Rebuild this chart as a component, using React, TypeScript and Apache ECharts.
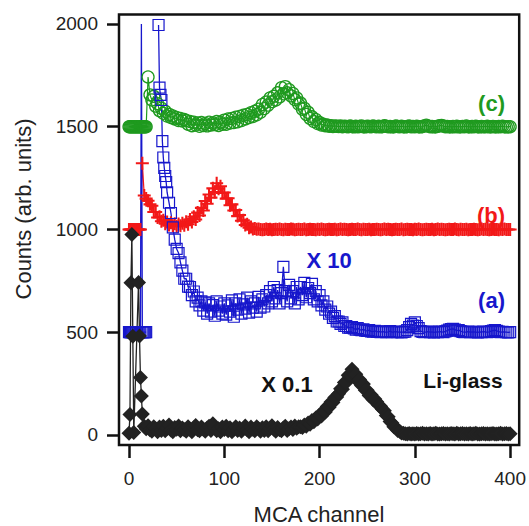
import React, { useEffect, useRef } from "react";
import * as echarts from "echarts";

// ---------------- data ----------------
const X_TICKS = [0, 100, 200, 300, 400];
const Y_TICKS = [0, 500, 1000, 1500, 2000];

// common sampling grid of MCA channels (20 .. 400, step 2)
const GRID_CH = [
  20, 22, 24, 26, 28, 30, 32, 34, 36, 38, 40, 42, 44, 46, 48, 50, 52, 54, 56, 58,
  60, 62, 64, 66, 68, 70, 72, 74, 76, 78, 80, 82, 84, 86, 88, 90, 92, 94, 96, 98,
  100, 102, 104, 106, 108, 110, 112, 114, 116, 118, 120, 122, 124, 126, 128, 130, 132, 134, 136, 138,
  140, 142, 144, 146, 148, 150, 152, 154, 156, 158, 160, 162, 164, 166, 168, 170, 172, 174, 176, 178,
  180, 182, 184, 186, 188, 190, 192, 194, 196, 198, 200, 202, 204, 206, 208, 210, 212, 214, 216, 218,
  220, 222, 224, 226, 228, 230, 232, 234, 236, 238, 240, 242, 244, 246, 248, 250, 252, 254, 256, 258,
  260, 262, 264, 266, 268, 270, 272, 274, 276, 278, 280, 282, 284, 286, 288, 290, 292, 294, 296, 298,
  300, 302, 304, 306, 308, 310, 312, 314, 316, 318, 320, 322, 324, 326, 328, 330, 332, 334, 336, 338,
  340, 342, 344, 346, 348, 350, 352, 354, 356, 358, 360, 362, 364, 366, 368, 370, 372, 374, 376, 378,
  380, 382, 384, 386, 388, 390, 392, 394, 396, 398, 400,
];

// (c) green, offset +1500
const GREEN_EARLY_CH = [0, 1, 2, 3, 4, 5, 6, 7, 8, 9, 10, 11, 12, 13, 14, 15, 16, 17, 18];
const GREEN_EARLY_VAL = [1500, 1500, 1500, 1500, 1500, 1500, 1500, 1500, 1500, 1500, 1500, 1500, 1500, 1500, 1500, 1500, 1500, 1500, 1500];
const GREEN_VAL = [
  1742, 1655, 1630, 1648, 1600, 1612, 1578, 1590, 1565, 1575, 1552, 1560, 1545, 1552, 1538, 1545, 1530, 1540, 1528, 1535,
  1530, 1512, 1525, 1505, 1522, 1508, 1518, 1502, 1520, 1506, 1516, 1504, 1522, 1508, 1518, 1510, 1525, 1506, 1522, 1512,
  1532, 1512, 1538, 1518, 1540, 1520, 1546, 1524, 1550, 1530, 1556, 1538, 1560, 1545, 1568, 1550, 1575, 1558, 1585, 1570,
  1608, 1588, 1620, 1605, 1640, 1622, 1648, 1630, 1665, 1645, 1690, 1660, 1695, 1665, 1680, 1650, 1662, 1632, 1640, 1610,
  1615, 1585, 1590, 1560, 1570, 1540, 1548, 1525, 1535, 1515, 1520, 1508, 1512, 1505, 1508, 1502, 1505, 1501, 1504, 1502,
  1501, 1503, 1500, 1502, 1501, 1500, 1503, 1501, 1499, 1502, 1500, 1501, 1504, 1500, 1499, 1502, 1501, 1500, 1503, 1501,
  1500, 1502, 1499, 1501, 1505, 1502, 1500, 1501, 1499, 1500, 1503, 1501, 1500, 1502, 1500, 1499, 1501, 1503, 1500, 1501,
  1500, 1502, 1500, 1499, 1501, 1504, 1507, 1503, 1500, 1501, 1499, 1500, 1502, 1505, 1506, 1503, 1500, 1501, 1500, 1499,
  1501, 1500, 1502, 1499, 1500, 1501, 1500, 1503, 1500, 1499, 1501, 1500, 1502, 1500, 1499, 1501, 1500, 1500, 1502, 1499,
  1500, 1501, 1500, 1499, 1501, 1500, 1502, 1500, 1499, 1500, 1500,
];

// (b) red, offset +1000
const RED_EARLY_CH = [0, 1, 2, 3, 4, 5, 6, 7, 8, 9, 10, 11, 12, 14, 16, 18];
const RED_EARLY_VAL = [1000, 1000, 1000, 1000, 1000, 1000, 1000, 1000, 1000, 1000, 1000, 1000, 1000, 1322, 1165, 1150];
const RED_VAL = [
  1140, 1122, 1115, 1085, 1085, 1058, 1062, 1040, 1045, 1028, 1036, 1022, 1032, 1018, 1028, 1015, 1026, 1018, 1030, 1020,
  1038, 1025, 1048, 1036, 1062, 1048, 1082, 1068, 1105, 1092, 1138, 1125, 1170, 1155, 1200, 1182, 1225, 1198, 1210, 1178,
  1180, 1150, 1152, 1118, 1122, 1092, 1095, 1065, 1070, 1042, 1045, 1022, 1025, 1008, 1012, 1002, 1005, 1001, 1002, 1000,
  999, 1000, 1002, 1000, 1001, 999, 1000, 1001, 1000, 1002, 1000, 999, 1001, 1000, 1000, 1002, 1001, 999, 1000, 1001,
  1000, 1000, 1002, 999, 1000, 1001, 1000, 1000, 999, 1001, 1000, 1002, 1000, 999, 1000, 1001, 1000, 1000, 1001, 999,
  1000, 1002, 1000, 1001, 1000, 999, 1000, 1001, 1000, 1000, 1002, 1000, 999, 1001, 1000, 1000, 1001, 999, 1000, 1000,
  1001, 1000, 999, 1000, 1002, 1000, 1001, 1000, 999, 1000, 1001, 1000, 1000, 1002, 999, 1000, 1001, 1000, 1000, 999,
  1001, 1000, 1002, 1000, 999, 1000, 1001, 1000, 1000, 1001, 999, 1000, 1002, 1000, 1001, 1000, 999, 1000, 1001, 1000,
  1000, 1002, 1000, 999, 1001, 1000, 1000, 1001, 999, 1000, 1000, 1001, 1000, 999, 1000, 1002, 1000, 1001, 1000, 999,
  1000, 1001, 1000, 1000, 999, 1001, 1000, 1002, 1000, 1000, 1000,
];

// (a) blue, X 10, offset +500 (null = gap in the trace)
const BLUE_EARLY_CH = [0, 1, 2, 3, 4, 5, 6, 7, 8, 9, 10, 11, 12, 13, 14, 15, 16, 17, 18, 31, 33, 35, 37, 39];
const BLUE_EARLY_VAL = [500, 500, 500, 500, 500, 500, 500, 500, 500, 500, 500, 500, 500, 2000, 500, 500, 500, 500, 500, 1995, 1655, 1430, 1300, 1230];
const BLUE_NO_MARK_CH = [13];
const BLUE_VAL: (number | null)[] = [
  null, null, null, null, null, null, 1690, 1630, 1350, 1260, 1180, 1130, 1080, 1010, 950, 905, 885, 840, 800, 760,
  760, 722, 720, 680, 698, 650, 668, 630, 650, 605, 645, 590, 640, 600, 632, 580, 650, 605, 625, 590,
  640, 585, 630, 600, 655, 575, 640, 610, 660, 590, 635, 615, 668, 595, 650, 620, 640, 600, 672, 620,
  660, 625, 680, 640, 700, 650, 720, 665, 705, 640, 690, 818, 700, 650, 730, 665, 700, 640, 720, 660,
  720, 680, 740, 670, 715, 690, 735, 660, 700, 650, 680, 630, 650, 610, 625, 590, 600, 570, 578, 552,
  552, 540, 548, 530, 530, 522, 522, 525, 518, 512, 520, 512, 510, 514, 508, 506, 510, 504, 503, 506,
  502, 504, 500, 503, 501, 500, 502, 505, 500, 501, 503, 500, 502, 499, 501, 503, 510, 525, 540, 532,
  548, 530, 520, 505, 502, 500, 501, 503, 500, 502, 499, 501, 500, 503, 502, 500, 504, 508, 512, 515,
  516, 512, 508, 510, 505, 502, 500, 501, 503, 500, 502, 501, 500, 499, 502, 500, 503, 501, 500, 502,
  505, 508, 510, 506, 503, 500, 502, 501, 500, 499, 500,
];

// Li-glass, X 0.1
const BLACK_EARLY_CH = [0, 1, 2, 3, 4, 5, 10, 11, 12, 13, 14, 16, 18];
const BLACK_EARLY_VAL = [8, 100, 740, 975, 480, 12, 742, 482, 280, 190, 102, 42, 30];
const BLACK_VAL = [
  45, 25, 18, 40, 30, 15, 38, 22, 42, 20, 32, 48, 24, 15, 36, 28, 44, 20, 34, 25,
  18, 40, 28, 15, 35, 46, 25, 20, 38, 28, 18, 34, 42, 22, 55, 35, 20, 30, 16, 38,
  26, 42, 20, 35, 15, 28, 40, 22, 34, 18, 30, 44, 25, 16, 38, 28, 20, 40, 30, 18,
  35, 22, 40, 20, 32, 45, 28, 18, 36, 25, 20, 34, 42, 22, 30, 38, 26, 44, 32, 40,
  40, 36, 48, 42, 58, 52, 70, 64, 82, 78, 98, 92, 115, 112, 138, 135, 160, 158, 182, 185,
  200, 225, 222, 255, 255, 290, 290, 320, 295, 295, 262, 270, 240, 248, 218, 218, 192, 196, 172, 175,
  162, 145, 140, 125, 118, 95, 88, 65, 58, 40, 35, 22, 18, 10, 8, 6, 5, 7, 4, 6,
  5, 7, 4, 6, 8, 5, 6, 4, 7, 5, 6, 8, 5, 4, 6, 7, 5, 6, 4, 7,
  6, 5, 8, 4, 6, 7, 5, 6, 4, 7, 5, 6, 8, 5, 4, 6, 7, 5, 6, 4,
  6, 7, 5, 4, 6, 8, 5, 6, 7, 5, 6,
];

// ---------------- styling ----------------
const FONT = "'Liberation Sans', Arial, Helvetica, sans-serif";
const GREEN = "#1f9a1f";
const RED = "#f21818";
const BLUE = "#1717cc";
const BLACK = "#222222";
const PLUS = "path://M4.2,0H5.8V4.2H10V5.8H5.8V10H4.2V5.8H0V4.2H4.2Z";

function build(earlyCh: number[], earlyVal: number[], vals: (number | null)[], noMark: number[] = []) {
  const pts: any[] = [];
  earlyCh.forEach((c, i) => {
    const item: any = { value: [c, earlyVal[i]] };
    if (noMark.indexOf(c) >= 0) item.symbol = "none";
    pts.push(item);
  });
  GRID_CH.forEach((c, i) => pts.push({ value: [c, vals[i] == null ? "-" : (vals[i] as number)] }));
  pts.sort((a, b) => a.value[0] - b.value[0]);
  return pts;
}

export default function App() {
  const ref = useRef<HTMLDivElement>(null);
  useEffect(() => {
    if (!ref.current) return;
    const chart = echarts.init(ref.current, undefined, { renderer: "svg" });
    const axisLabel = { fontSize: 19, color: "#222", fontFamily: FONT, formatter: (v: number) => String(v) };
    chart.setOption({
      animation: false,
      backgroundColor: "#ffffff",
      grid: {
        left: 119,
        right: 9,
        top: 14.5,
        bottom: 81,
        show: true,
        borderColor: "#111",
        borderWidth: 2.5,
        backgroundColor: "transparent",
      },
      xAxis: {
        type: "value",
        min: -10.5,
        max: 409.5,
        axisLine: { show: false, onZero: false },
        axisTick: { show: true, length: 13, lineStyle: { width: 2.5, color: "#111" }, customValues: X_TICKS },
        axisLabel: { ...axisLabel, margin: 24, customValues: X_TICKS },
        splitLine: { show: false },
      },
      yAxis: {
        type: "value",
        min: -49,
        max: 2046,
        axisLine: { show: false, onZero: false },
        axisTick: { show: true, length: 12, lineStyle: { width: 2.5, color: "#111" }, customValues: Y_TICKS },
        axisLabel: { ...axisLabel, margin: 21, customValues: Y_TICKS },
        splitLine: { show: false },
      },
      series: [
        {
          type: "line",
          name: "(c)",
          data: build(GREEN_EARLY_CH, GREEN_EARLY_VAL, GREEN_VAL),
          symbol: "circle",
          symbolSize: 12,
          showAllSymbol: true,
          itemStyle: { color: "rgba(0,0,0,0)", borderColor: GREEN, borderWidth: 1.3 },
          lineStyle: { color: GREEN, width: 1.2 },
          silent: true,
        },
        {
          type: "line",
          name: "(b)",
          data: build(RED_EARLY_CH, RED_EARLY_VAL, RED_VAL),
          symbol: PLUS,
          symbolSize: 13,
          showAllSymbol: true,
          itemStyle: { color: RED },
          lineStyle: { color: RED, width: 1.2 },
          silent: true,
        },
        {
          type: "line",
          name: "(a)",
          data: build(BLUE_EARLY_CH, BLUE_EARLY_VAL, BLUE_VAL, BLUE_NO_MARK_CH),
          symbol: "rect",
          symbolSize: 11,
          showAllSymbol: true,
          connectNulls: false,
          itemStyle: { color: "rgba(0,0,0,0)", borderColor: BLUE, borderWidth: 1.2 },
          lineStyle: { color: BLUE, width: 1.3 },
          silent: true,
        },
        {
          type: "line",
          name: "Li-glass",
          data: build(BLACK_EARLY_CH, BLACK_EARLY_VAL, BLACK_VAL),
          symbol: "diamond",
          symbolSize: 15,
          showAllSymbol: true,
          itemStyle: { color: BLACK },
          lineStyle: { color: BLACK, width: 1.3 },
          silent: true,
        },
      ],
      graphic: [
        {
          type: "text",
          x: 23,
          y: 209,
          rotation: Math.PI / 2,
          style: { text: "Counts (arb. units)", fill: "#222", font: `22px ${FONT}`, textAlign: "center", textVerticalAlign: "middle" },
        },
        {
          type: "text",
          x: 319,
          y: 514,
          style: { text: "MCA channel", fill: "#222", font: `22px ${FONT}`, textAlign: "center", textVerticalAlign: "middle" },
        },
        { type: "text", x: 505, y: 103, style: { text: "(c)", fill: GREEN, font: `bold 22px ${FONT}`, textAlign: "right", textVerticalAlign: "middle" } },
        { type: "text", x: 505, y: 215, style: { text: "(b)", fill: RED, font: `bold 22px ${FONT}`, textAlign: "right", textVerticalAlign: "middle" } },
        { type: "text", x: 505, y: 300, style: { text: "(a)", fill: BLUE, font: `bold 22px ${FONT}`, textAlign: "right", textVerticalAlign: "middle" } },
        { type: "text", x: 329, y: 260, style: { text: "X 10", fill: BLUE, font: `bold 22px ${FONT}`, textAlign: "center", textVerticalAlign: "middle" } },
        { type: "text", x: 287, y: 384, style: { text: "X 0.1", fill: "#111", font: `bold 22px ${FONT}`, textAlign: "center", textVerticalAlign: "middle" } },
        { type: "text", x: 463, y: 380, style: { text: "Li-glass", fill: "#111", font: `bold 21px ${FONT}`, textAlign: "center", textVerticalAlign: "middle" } },
      ],
    });
    return () => chart.dispose();
  }, []);
  return <div ref={ref} style={{ position: "fixed", left: 0, top: 0, width: 529, height: 526 }} />;
}
